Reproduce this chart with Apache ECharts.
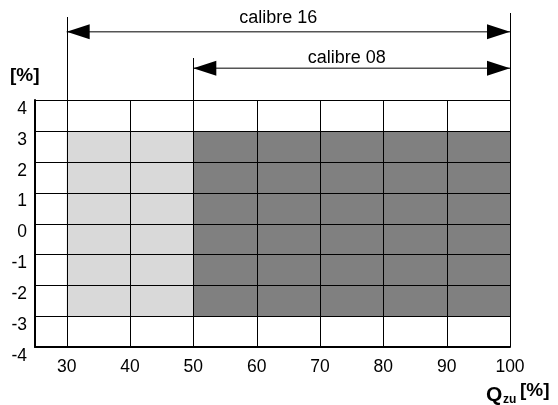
<!DOCTYPE html>
<html><head><meta charset="utf-8">
<script src="https://cdn.jsdelivr.net/npm/echarts@6/dist/echarts.min.js"></script>
<style>html,body{margin:0;padding:0;background:#fff}#c{width:558px;height:405px}</style>
</head><body><div id="c"></div>
<script>
// ---- data ----
const xTicks = [30, 40, 50, 60, 70, 80, 90, 100];
const yTicks = [-4, -3, -2, -1, 0, 1, 2, 3, 4];
const xMin = 25, xMax = 100;
const yMin = -4, yMax = 4;
const bandStart = [30, 50];
const bandEnd = [50, 100];
const bandLow = [-3, -3];
const bandHigh = [3, 3];
const calibreNames = ['calibre 16', 'calibre 08'];
const calibreStart = [30, 50];
const calibreEnd = [100, 100];

// ---- styling / layout ----
const FONT = "'Liberation Sans', Arial, Helvetica, sans-serif";
const bandColors = ['#d9d9d9', '#808080'];
const rowY = [31.7, 68.3];
const textY = [18.5, 58];
const textDx = [-10, -5];
const vTopStart = [17, 58];
const vTopEnd = [13, 58];

const chart = echarts.init(document.getElementById('c'), null, {renderer: 'canvas'});

const option = {
  animation: false,
  backgroundColor: '#fff',
  grid: {left: 35, right: 48, top: 100, bottom: 58, containLabel: false},
  xAxis: {
    type: 'value', min: xMin, max: xMax, interval: 5,
    axisLine: {show: true, onZero: false, lineStyle: {color: '#000', width: 2}},
    axisTick: {show: false},
    splitLine: {show: false},
    axisLabel: {
      color: '#000', fontSize: 17.5, fontFamily: FONT, margin: 11,
      showMinLabel: true, showMaxLabel: true,
      formatter: v => xTicks.includes(v) ? String(v) : ''
    }
  },
  yAxis: {
    type: 'value', min: yMin, max: yMax, interval: 1,
    axisLine: {show: true, onZero: false, lineStyle: {color: '#000', width: 2}},
    axisTick: {show: false},
    splitLine: {show: false},
    axisLabel: {
      color: '#000', fontSize: 17.5, fontFamily: FONT, margin: 8,
      verticalAlign: 'top',
      formatter: v => yTicks.includes(v) ? String(v) : ''
    }
  },
  graphic: [
    {type: 'text', left: 10, top: 66, style: {text: '[%]', font: 'bold 19px ' + FONT, fill: '#000'}},
    {type: 'text', x: 486, y: 395, style: {text: 'Q', font: 'bold 21px ' + FONT, fill: '#000', textAlign: 'left', textVerticalAlign: 'middle'}},
    {type: 'text', x: 503, y: 400, style: {text: 'zu', font: 'bold 12px ' + FONT, fill: '#000', textAlign: 'left', textVerticalAlign: 'middle'}},
    {type: 'text', x: 520, y: 391, style: {text: '[%]', font: 'bold 19px ' + FONT, fill: '#000', textAlign: 'left', textVerticalAlign: 'middle'}}
  ],
  series: [
    {
      type: 'custom', name: 'bands', z: 1, clip: false,
      data: bandStart.map((s, i) => [s, bandEnd[i], bandLow[i], bandHigh[i]]),
      renderItem: (params, api) => {
        const p1 = api.coord([api.value(0), api.value(3)]);
        const p2 = api.coord([api.value(1), api.value(2)]);
        return {type: 'rect', shape: {x: p1[0], y: p1[1], width: p2[0] - p1[0], height: p2[1] - p1[1]},
          style: {fill: bandColors[params.dataIndex]}};
      }
    },
    {
      type: 'custom', name: 'vgrid', z: 4, clip: false,
      data: xTicks.map(v => [v]),
      renderItem: (params, api) => {
        const a = api.coord([api.value(0), yMin]);
        const b = api.coord([api.value(0), yMax]);
        return {type: 'line', shape: {x1: Math.round(a[0]) + 0.5, y1: a[1], x2: Math.round(b[0]) + 0.5, y2: b[1]},
          style: {stroke: '#000', lineWidth: 1}};
      }
    },
    {
      type: 'custom', name: 'hgrid', z: 4, clip: false,
      data: yTicks.filter(v => v > yMin).map(v => [xMin, v]),
      renderItem: (params, api) => {
        const a = api.coord([xMin, api.value(1)]);
        const b = api.coord([xMax, api.value(1)]);
        return {type: 'line', shape: {x1: a[0], y1: Math.round(a[1]) + 0.5, x2: b[0], y2: Math.round(b[1]) + 0.5},
          style: {stroke: '#000', lineWidth: 1}};
      }
    },
    {
      type: 'custom', name: 'calibres', z: 5, clip: false,
      data: calibreNames.map((n, i) => [calibreStart[i], calibreEnd[i]]),
      renderItem: (params, api) => {
        const i = params.dataIndex;
        const x1 = api.coord([api.value(0), yMax])[0];
        const x2 = api.coord([api.value(1), yMax])[0];
        const top = api.coord([xMin, yMax])[1];
        const y = rowY[i];
        const L = 23, H = 7.5;
        return {type: 'group', children: [
          {type: 'line', shape: {x1: x1, y1: y, x2: x2, y2: y}, style: {stroke: '#555', lineWidth: 1.5}},
          {type: 'polygon', shape: {points: [[x1, y], [x1 + L, y - H], [x1 + L, y + H]]}, style: {fill: '#000'}},
          {type: 'polygon', shape: {points: [[x2, y], [x2 - L, y - H], [x2 - L, y + H]]}, style: {fill: '#000'}},
          {type: 'line', shape: {x1: Math.round(x1) + 0.5, y1: vTopStart[i], x2: Math.round(x1) + 0.5, y2: top}, style: {stroke: '#000', lineWidth: 1}},
          {type: 'line', shape: {x1: Math.round(x2) + 0.5, y1: vTopEnd[i], x2: Math.round(x2) + 0.5, y2: top}, style: {stroke: '#000', lineWidth: 1}},
          {type: 'text', x: (x1 + x2) / 2 + textDx[i], y: textY[i],
            style: {text: calibreNames[i], font: '18px ' + FONT, fill: '#000', align: 'center', verticalAlign: 'middle'}}
        ]};
      }
    }
  ]
};
chart.setOption(option);
</script>
</body></html>
